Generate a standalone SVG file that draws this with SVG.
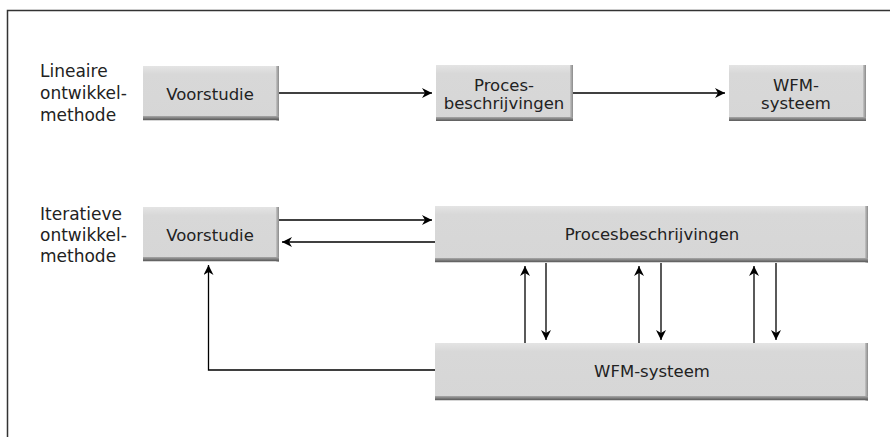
<svg xmlns="http://www.w3.org/2000/svg" width="890" height="437" viewBox="0 0 890 437">
<defs>
<linearGradient id="bot" x1="0" y1="0" x2="0" y2="1"><stop offset="0" stop-color="#a8a8a8"/><stop offset="1" stop-color="#5a5a5a"/></linearGradient>
<linearGradient id="rgt" x1="0" y1="0" x2="1" y2="0"><stop offset="0" stop-color="#c4c4c4"/><stop offset="1" stop-color="#8a8a8a"/></linearGradient>
<linearGradient id="face" x1="0" y1="0" x2="0" y2="1"><stop offset="0" stop-color="#e4e4e4"/><stop offset="0.15" stop-color="#d8d8d8"/><stop offset="1" stop-color="#d6d6d6"/></linearGradient>
<marker id="ah" viewBox="0 0 10 10" refX="10" refY="5" markerWidth="10" markerHeight="10" markerUnits="userSpaceOnUse" orient="auto"><path d="M0,0 L10,5 L0,10 L3,5 z" fill="#000"/></marker>
</defs>
<style>
.lbl{font-family:"DejaVu Sans",Verdana,sans-serif;font-size:17px;fill:#222}
.bt{font-family:"DejaVu Sans",Verdana,sans-serif;font-size:16.5px;fill:#222;text-anchor:middle}
.face{fill:url(#face)}
.sb{fill:url(#bot)}
.sr{fill:url(#rgt)}
.c{stroke:#000;stroke-width:1.3;fill:none;marker-end:url(#ah)}
</style>
<path d="M7.5,437 V10.5 H890" fill="none" stroke="#333" stroke-width="1.5"/>
<text class="lbl" x="40" y="77">Lineaire</text>
<text class="lbl" x="40" y="99">ontwikkel-</text>
<text class="lbl" x="40" y="121">methode</text>
<text class="lbl" x="40" y="220">Iteratieve</text>
<text class="lbl" x="40" y="241">ontwikkel-</text>
<text class="lbl" x="40" y="262">methode</text>
<g id="voorstudie1"><rect class="face" x="143" y="66" width="136" height="55"/><rect class="sr" x="276" y="66" width="3" height="55"/><rect class="sb" x="143" y="116" width="136" height="4"/><text class="bt" x="210" y="100">Voorstudie</text></g>
<g id="proces1"><rect class="face" x="436" y="65" width="137" height="56"/><rect class="sr" x="570" y="65" width="3" height="56"/><rect class="sb" x="436" y="117" width="137" height="4"/><text class="bt" x="504" y="91">Proces-</text><text class="bt" x="504" y="109">beschrijvingen</text></g>
<g id="wfm1"><rect class="face" x="729" y="65" width="137" height="56"/><rect class="sr" x="863" y="65" width="3" height="56"/><rect class="sb" x="729" y="117" width="137" height="4"/><text class="bt" x="796" y="91">WFM-</text><text class="bt" x="796" y="109">systeem</text></g>
<g id="voorstudie2"><rect class="face" x="143" y="207" width="136" height="55"/><rect class="sr" x="276" y="207" width="3" height="55"/><rect class="sb" x="143" y="257" width="136" height="4"/><text class="bt" x="210" y="241">Voorstudie</text></g>
<g id="proces2"><rect class="face" x="435" y="206" width="433" height="57"/><rect class="sr" x="865" y="206" width="3" height="57"/><rect class="sb" x="435" y="258" width="433" height="4"/><text class="bt" x="652" y="240">Procesbeschrijvingen</text></g>
<g id="wfm2"><rect class="face" x="435" y="343" width="433" height="58"/><rect class="sr" x="865" y="343" width="3" height="58"/><rect class="sb" x="435" y="396" width="433" height="4"/><text class="bt" x="652" y="377">WFM-systeem</text></g>
<g id="connectors">
<line class="c" x1="279" y1="93" x2="432" y2="93"/>
<line class="c" x1="573" y1="93" x2="725" y2="93"/>
<line class="c" x1="279" y1="220" x2="432" y2="220"/>
<line class="c" x1="435" y1="242" x2="282" y2="242"/>
<line class="c" x1="525" y1="343" x2="525" y2="266"/>
<line class="c" x1="546" y1="263" x2="546" y2="340"/>
<line class="c" x1="639" y1="343" x2="639" y2="266"/>
<line class="c" x1="661" y1="263" x2="661" y2="340"/>
<line class="c" x1="754" y1="343" x2="754" y2="266"/>
<line class="c" x1="776" y1="263" x2="776" y2="340"/>
<path class="c" d="M435,370 H208.5 V265"/>
</g>
</svg>
